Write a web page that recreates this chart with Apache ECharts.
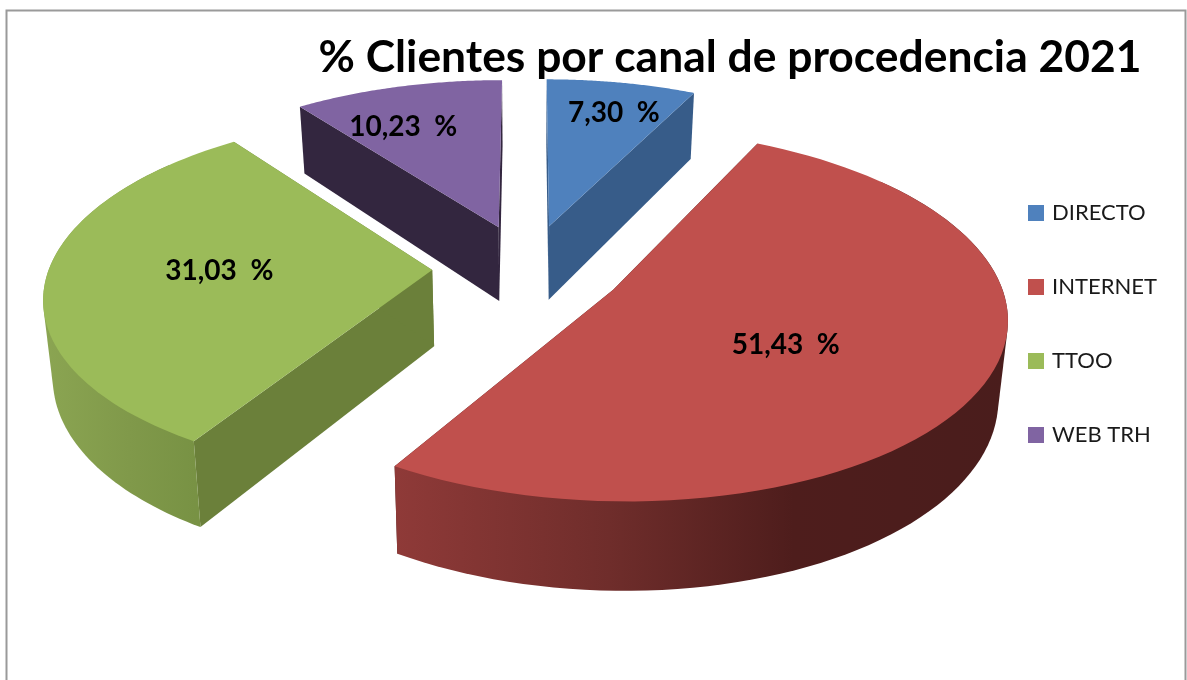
<!DOCTYPE html>
<html><head><meta charset="utf-8">
<style>html,body{margin:0;padding:0;background:#fff}#c{width:1187px;height:680px}</style>
<script src="https://cdn.jsdelivr.net/npm/echarts@6/dist/echarts.min.js"></script>
</head><body><div id="c"></div>
<script>
const titleText = '% Clientes por canal de procedencia 2021';
const categories = ['DIRECTO', 'INTERNET', 'TTOO', 'WEB TRH'];
const values = [7.30, 51.43, 31.03, 10.23];

// appearance (not data)
const topColors = ['#4F81BD', '#C0504D', '#9BBB59', '#8064A2'];
const cutColors = ['#375C89', '#4A1D1C', '#6B803A', '#33263F'];
const wallStops = [
  [[0, '#375C89'], [1, '#375C89']],
  [[0, '#8F3A38'], [0.35, '#6F2D2B'], [0.65, '#4E1D1C'], [1, '#4A1D1C']],
  [[0, '#8BA552'], [0.45, '#80994A'], [0.8, '#789244'], [1, '#789244']],
  [[0, '#33263F'], [1, '#33263F']]
];
const labelReach = [0.78, 0.505, 0.555, 0.72];
const labelTurn = [1.5, 5.4, 2.8, -5];
const drawOrder = [3, 0, 2, 1];

// tilted-disc projection
const CX = 528, CY = 268, RX = 383, RY = 177, PERSP = 0.134, EXPLODE = 0.25, DEPTH = 76, SHRINK = 0.98;
const WALL_FROM = 50 * Math.PI / 180, WALL_TO = 310 * Math.PI / 180;
const total = values.reduce((a, b) => a + b, 0);
function project(a, b, low) {
  const w = 1 - PERSP * b;
  let x = RX * a / w, y = RY * b / w;
  if (low) { x *= SHRINK; y += DEPTH / w; }
  return [CX + x, CY + y];
}
function sliceGeom(idx) {
  let before = 0;
  for (let i = 0; i < idx; i++) before += values[i];
  const start = before / total * 2 * Math.PI;
  const end = (before + values[idx]) / total * 2 * Math.PI;
  const mid = (start + end) / 2;
  return { start, end, mid, oa: EXPLODE * Math.sin(mid), ob: -EXPLODE * Math.cos(mid) };
}
const STEPS = 80;
function rimBetween(g, from, to, low) {
  const pts = [];
  for (let i = 0; i <= STEPS; i++) {
    const t = from + (to - from) * i / STEPS;
    pts.push(project(g.oa + Math.sin(t), g.ob - Math.cos(t), low));
  }
  return pts;
}
function hull(points) {
  const p = points.slice().sort((u, v) => u[0] - v[0] || u[1] - v[1]);
  const cross = (o, u, v) => (u[0] - o[0]) * (v[1] - o[1]) - (u[1] - o[1]) * (v[0] - o[0]);
  const lo = [], up = [];
  for (const q of p) {
    while (lo.length > 1 && cross(lo[lo.length - 2], lo[lo.length - 1], q) <= 0) lo.pop();
    lo.push(q);
  }
  for (const q of p.reverse()) {
    while (up.length > 1 && cross(up[up.length - 2], up[up.length - 1], q) <= 0) up.pop();
    up.push(q);
  }
  return lo.slice(0, -1).concat(up.slice(0, -1));
}
function renderSlice(idx) {
  const g = sliceGeom(idx);
  const topArc = rimBetween(g, g.start, g.end, false), lowArc = rimBetween(g, g.start, g.end, true);
  const apexT = project(g.oa, g.ob, false), apexL = project(g.oa, g.ob, true);
  const poly = (points, fill) => ({ type: 'polygon', shape: { points }, style: { fill } });
  const children = [
    poly([apexT, topArc[0], lowArc[0], apexL], cutColors[idx]),
    poly([apexT, topArc[STEPS], lowArc[STEPS], apexL], cutColors[idx])
  ];
  const from = Math.max(g.start, WALL_FROM), to = Math.min(g.end, WALL_TO);
  if (to > from) {
    const xs = topArc.map(p => p[0]);
    const fill = new echarts.graphic.LinearGradient(Math.min(...xs), 0, Math.max(...xs), 0,
      wallStops[idx].map(s => ({ offset: s[0], color: s[1] })), true);
    children.push(poly(hull(rimBetween(g, from, to, false).concat(rimBetween(g, from, to, true))), fill));
  }
  const lt = g.mid + labelTurn[idx] * Math.PI / 180;
  const lab = project(g.oa + labelReach[idx] * Math.sin(lt), g.ob - labelReach[idx] * Math.cos(lt), false);
  children.push(poly([apexT].concat(topArc), topColors[idx]));
  children.push({ type: 'text', z2: 10, x: lab[0], y: lab[1] + 1,
    style: { text: values[idx].toFixed(2).replace('.', ',') + '  %', fill: '#000',
      font: 'bold 28px Lato', align: 'center', verticalAlign: 'middle' } });
  return { type: 'group', children };
}
const chart = echarts.init(document.getElementById('c'), null, { renderer: 'canvas' });
chart.setOption({
  animation: false,
  backgroundColor: '#fff',
  title: { text: titleText, left: 725, top: 31, textAlign: 'center',
    textStyle: { fontFamily: 'Lato', fontWeight: 'bold', fontSize: 44.4, color: '#000' } },
  legend: { orient: 'vertical', left: 1023, top: 197, itemWidth: 16, itemHeight: 16, itemGap: 52,
    icon: 'rect', data: categories,
    textStyle: { fontFamily: 'Lato', fontSize: 22, color: '#1a1a1a', padding: [0, 0, 0, 3] } },
  graphic: [{ type: 'polyline', silent: true, z: -1,
    shape: { points: [[6.5, 690], [6.5, 10.5], [1185.5, 10.5], [1185.5, 690]] },
    style: { stroke: '#9a9a9a', lineWidth: 2, fill: 'none' } }],
  series: drawOrder.map((idx, k) => ({
    type: 'custom', name: categories[idx], coordinateSystem: 'none', z: 2 + k,
    itemStyle: { color: topColors[idx] },
    data: [values[idx]],
    renderItem: () => renderSlice(idx)
  }))
});
</script></body></html>
